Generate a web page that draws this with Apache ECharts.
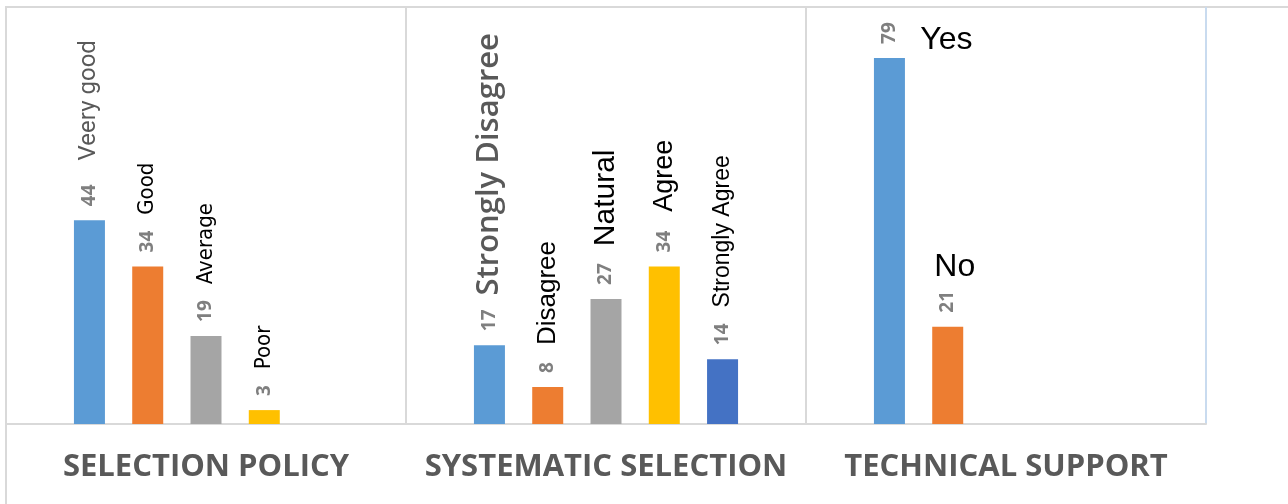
<!DOCTYPE html>
<html>
<head>
<meta charset="utf-8">
<script src="https://cdn.jsdelivr.net/npm/echarts@6/dist/echarts.min.js"></script>
<style>
  html, body { margin: 0; padding: 0; background: #fff; overflow: hidden; }
  .frame {
    position: absolute; left: 5px; top: 6px; width: 1400px; height: 600px;
    border-left: 2px solid #d9d9d9; border-top: 2px solid #d9d9d9;
  }
  #chart { position: absolute; left: 0; top: 0; width: 1288px; height: 504px; }
</style>
</head>
<body>
<div class="frame"></div>
<div id="chart"></div>
<script>
const categories = ['SELECTION POLICY', 'SYSTEMATIC SELECTION', 'TECHNICAL SUPPORT']

// one list per bar slot inside a group, null = no bar there
const firstBar = [44, 17, 79]
const secondBar = [34, 8, 21]
const thirdBar = [19, 27, null]
const fourthBar = [3, 34, null]
const fifthBar = [null, 14, null]

const firstNames = ['Veery good', 'Strongly Disagree', 'Yes']
const secondNames = ['Good', 'Disagree', 'No']
const thirdNames = ['Average', 'Natural', null]
const fourthNames = ['Poor', 'Agree', null]
const fifthNames = [null, 'Strongly Agree', null]

const values = [firstBar, secondBar, thirdBar, fourthBar, fifthBar]
const names = [firstNames, secondNames, thirdNames, fourthNames, fifthNames]
const colors = ['#5b9bd5', '#ed7d31', '#a5a5a5', '#ffc000', '#4472c4']

// which text style each name gets (rotated labels)
const nameStyle = {
  'Veery good': 'grey',
  'Strongly Disagree': 'greyBold',
  'Good': 'narrow',
  'Average': 'narrow',
  'Poor': 'narrow',
  'Disagree': 'a26',
  'Natural': 'a30',
  'Agree': 'a27',
  'Strongly Agree': 'a23'
}
// names written flat beside their bar
const flatOffset = {
  'Yes': [57, -18],
  'No': [7, -60]
}

const arial = "'Liberation Sans', Arial, sans-serif"
const narrow = "'Liberation Sans Narrow', 'DejaVu Sans Condensed', 'Liberation Sans', sans-serif"

const rich = {
  v: { fontFamily: 'Open Sans', fontWeight: 'bold', fontSize: 19, color: '#7f7f7f', verticalAlign: 'middle' },
  grey: { fontFamily: 'Roboto', fontSize: 24, color: '#595959', padding: [0, 0, 0, 24], verticalAlign: 'middle' },
  greyBold: { fontFamily: 'Open Sans', fontWeight: 600, fontSize: 31, color: '#595959', padding: [0, 0, 0, 14], verticalAlign: 'middle' },
  narrow: { fontFamily: narrow, fontSize: 22, color: '#000', padding: [0, 0, 0, 16], verticalAlign: 'middle' },
  a26: { fontFamily: arial, fontSize: 26, color: '#000', padding: [0, 0, 0, 17], verticalAlign: 'middle' },
  a30: { fontFamily: arial, fontSize: 30, color: '#000', padding: [0, 0, 0, 17], verticalAlign: 'middle' },
  a27: { fontFamily: arial, fontSize: 27, color: '#000', padding: [0, 0, 0, 19], verticalAlign: 'middle' },
  a23: { fontFamily: arial, fontSize: 23, color: '#000', padding: [0, 0, 0, 16], verticalAlign: 'middle' }
}

const chart = echarts.init(document.getElementById('chart'))

const series = values.map((vals, i) => {
  const flat = []
  names[i].forEach((n, j) => {
    if (n && flatOffset[n]) {
      flat.push({
        name: n,
        coord: [categories[j], vals[j]],
        label: { offset: flatOffset[n] }
      })
    }
  })
  return {
    type: 'bar',
    name: 'slot' + (i + 1),
    data: vals,
    barWidth: 31,
    barGap: '88%',
    itemStyle: { color: colors[i] },
    label: {
      show: true,
      position: 'top',
      rotate: 90,
      align: 'left',
      verticalAlign: 'middle',
      distance: 14,
      formatter: p => {
        const n = names[i][p.dataIndex]
        if (!n || flatOffset[n]) return '{v|' + p.value + '}'
        return '{v|' + p.value + '}{' + nameStyle[n] + '|' + n + '}'
      },
      rich: rich
    },
    markPoint: flat.length ? {
      symbol: 'circle',
      symbolSize: 1,
      itemStyle: { color: 'rgba(0,0,0,0)' },
      label: {
        show: true,
        position: 'inside',
        formatter: '{b}',
        fontFamily: arial,
        fontSize: 32,
        color: '#000'
      },
      data: flat
    } : undefined
  }
})

chart.setOption({
  animation: false,
  grid: { left: 6, right: 82, top: 7, bottom: 80, outerBoundsMode: 'none' },
  xAxis: {
    type: 'category',
    data: categories,
    axisLine: { lineStyle: { color: '#d9d9d9', width: 2 } },
    axisTick: { show: false },
    axisLabel: {
      interval: 0,
      hideOverlap: false,
      fontFamily: 'Open Sans',
      fontWeight: 'bold',
      fontSize: 31,
      color: '#595959',
      margin: 28
    },
    splitLine: {
      show: true,
      interval: 0,
      lineStyle: { color: ['#d9d9d9', '#d9d9d9', '#d9d9d9', '#c9dbef'], width: 2 }
    }
  },
  yAxis: {
    type: 'value',
    min: 0,
    max: 90,
    show: false
  },
  series: series
})

window.addEventListener('resize', () => chart.resize())
</script>
</body>
</html>
